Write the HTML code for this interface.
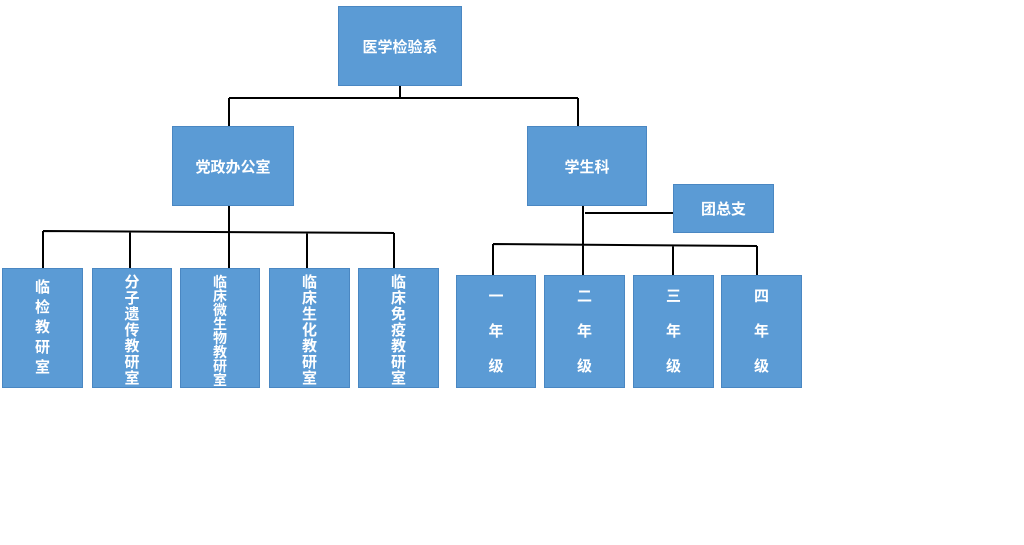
<!DOCTYPE html>
<html><head><meta charset="utf-8"><style>
body{margin:0;width:1024px;height:545px;background:#fff;position:relative;overflow:hidden;font-family:"Liberation Sans","Noto Sans CJK SC",sans-serif}
.b{position:absolute;background:#5b9bd5;border:1px solid #4a87c2;box-sizing:border-box;color:#fff;font-weight:bold;font-size:15px;display:flex;align-items:center;justify-content:center;text-align:center}
.v,.g{flex-direction:column}
.v span,.g span{display:block;overflow:visible}
.v span{height:16px;line-height:16px;font-size:15px}
.v8 span{height:14px;line-height:14px;font-size:14px}
.v5 span{height:20px;line-height:20px}
.g span{height:35px;line-height:35px}
svg{position:absolute;left:0;top:0}
</style></head><body>
<svg width="1024" height="545"><g stroke="#000" stroke-width="2" fill="none">
<path d="M400 86V98M229 98H578M229 98V126M578 98V126"/>
<path d="M229 206V231M43 231L394 233M43 231V268M130 231V268M229 231V268M307 232V268M394 233V268"/>
<path d="M583 206V275M585 213H673M493 244L757 246M493 244V275M673 245V275M757 246V275"/>
</g></svg>
<div class="b" style="left:338px;top:6px;width:124px;height:80px">医学检验系</div>
<div class="b" style="left:172px;top:126px;width:122px;height:80px">党政办公室</div>
<div class="b" style="left:527px;top:126px;width:120px;height:80px">学生科</div>
<div class="b" style="left:673px;top:184px;width:101px;height:49px">团总支</div>
<div class="b v v5" style="left:2px;top:268px;width:81px;height:120px"><span>临</span><span>检</span><span>教</span><span>研</span><span>室</span></div>
<div class="b v" style="left:92px;top:268px;width:80px;height:120px;padding-top:6px"><span>分</span><span>子</span><span>遗</span><span>传</span><span>教</span><span>研</span><span>室</span></div>
<div class="b v v8" style="left:180px;top:268px;width:80px;height:120px;padding-top:6px"><span>临</span><span>床</span><span>微</span><span>生</span><span>物</span><span>教</span><span>研</span><span>室</span></div>
<div class="b v" style="left:269px;top:268px;width:81px;height:120px;padding-top:6px"><span>临</span><span>床</span><span>生</span><span>化</span><span>教</span><span>研</span><span>室</span></div>
<div class="b v" style="left:358px;top:268px;width:81px;height:120px;padding-top:6px"><span>临</span><span>床</span><span>免</span><span>疫</span><span>教</span><span>研</span><span>室</span></div>
<div class="b g" style="left:456px;top:275px;width:80px;height:113px"><span>一</span><span>年</span><span>级</span></div>
<div class="b g" style="left:544px;top:275px;width:81px;height:113px"><span>二</span><span>年</span><span>级</span></div>
<div class="b g" style="left:633px;top:275px;width:81px;height:113px"><span>三</span><span>年</span><span>级</span></div>
<div class="b g" style="left:721px;top:275px;width:81px;height:113px"><span>四</span><span>年</span><span>级</span></div>
</body></html>
